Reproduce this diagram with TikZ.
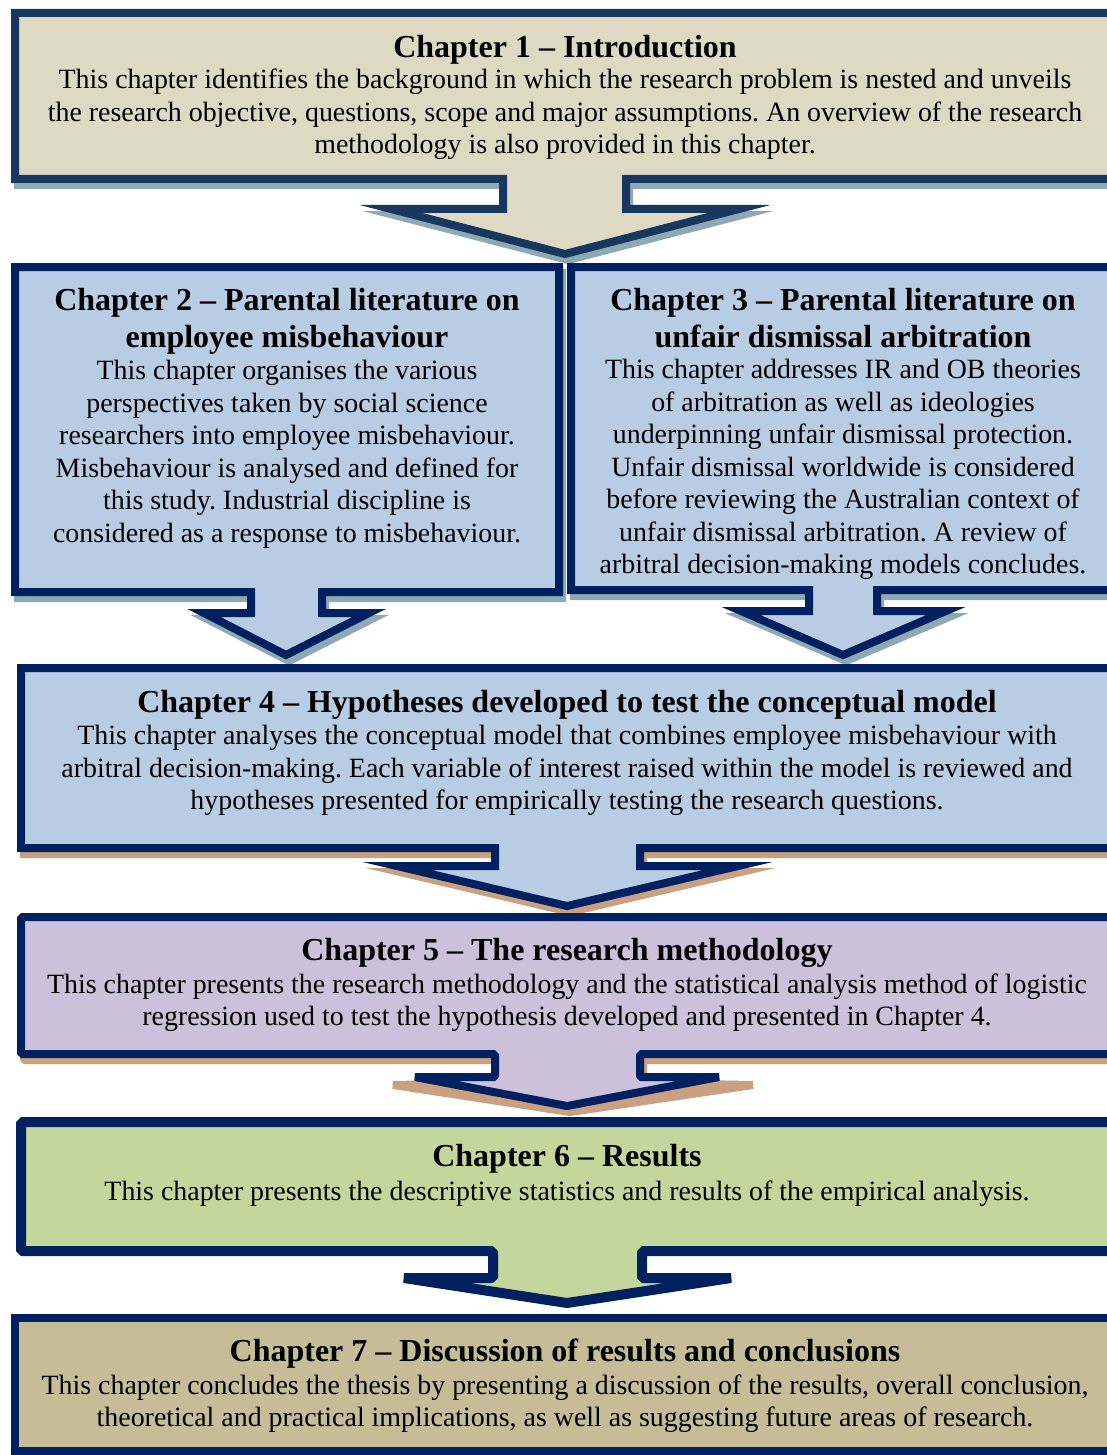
\documentclass[tikz,border=0pt]{standalone}
\usepackage{fontspec}
\setmainfont{Liberation Serif}
\usetikzlibrary{positioning}
\definecolor{FrameDark}{RGB}{23,55,94}
\definecolor{FrameNavy}{RGB}{0,32,96}
\definecolor{SandFill}{RGB}{221,217,195}
\definecolor{SkyFill}{RGB}{184,204,228}
\definecolor{LilacFill}{RGB}{204,192,218}
\definecolor{OliveFill}{RGB}{195,214,155}
\definecolor{KhakiFill}{RGB}{196,189,151}
\definecolor{ShadeBlue}{RGB}{142,169,180}
\definecolor{ShadeTan}{RGB}{201,160,128}
\frenchspacing

\begin{document}
\begin{tikzpicture}[x=0.5pt, y=-0.5pt, line join=miter,
  frame/.style={line width=4pt, draw=FrameNavy},
  shade/.style={line width=4pt, draw=#1, fill=#1, shift={(3,6)}},
  title/.style={font=\bfseries\fontsize{16}{18.5}\selectfont, align=center, inner sep=0pt},
  body/.style={font=\fontsize{13.95}{16.25}\selectfont, align=center, inner sep=0pt}]
\useasboundingbox (0,0) rectangle (1107,1455);
\clip (0,0) rectangle (1107,1455);

% chapter outlines with their arrows
\def\chapA{(15,13) -- (1115,13) -- (1115,179) -- (626,179) -- (626,209) -- (739,209) -- (565,254) -- (391,209) -- (503,209) -- (503,179) -- (15,179) -- cycle}
\def\chapB{(15,267) -- (559,267) -- (559,592) -- (322,592) -- (322,613) -- (369,613) -- (286,655) -- (204,613) -- (251,613) -- (251,592) -- (15,592) -- cycle}
\def\chapC{(571,267) -- (1115,267) -- (1115,590) -- (877,590) -- (877,611) -- (946,611) -- (843,655) -- (741,611) -- (809,611) -- (809,590) -- (571,590) -- cycle}
\def\chapD{(21,668) -- (1115,668) -- (1115,848) -- (640,848) -- (640,866) -- (738,866) -- (567,906) -- (397,866) -- (495,866) -- (495,848) -- (21,848) -- cycle}
\def\chapE{(21,917) -- (1115,917) -- (1115,1054) -- (640,1054) -- (640,1077) -- (719,1077) -- (567,1106) -- (415,1077) -- (495,1077) -- (495,1054) -- (21,1054) -- cycle}
\def\chapF{(21,1122) -- (1115,1122) -- (1115,1251) -- (642,1251) -- (642,1278) -- (731,1278) -- (567,1303) -- (404,1278) -- (493,1278) -- (493,1251) -- (21,1251) -- cycle}

\path[shade=ShadeBlue] \chapA;
\path[frame, draw=FrameDark, fill=SandFill] \chapA;
\path[shade=ShadeBlue] \chapB;
\path[frame, fill=SkyFill] \chapB;
\path[shade=ShadeBlue] \chapC;
\path[frame, fill=SkyFill] \chapC;
\path[shade=ShadeTan] \chapD;
\path[frame, fill=SkyFill] \chapD;
\path[shade=ShadeTan, line join=bevel] (21,917) -- (1115,917) -- (1115,1054) -- (640,1054) -- (640,1077) -- (750,1079) -- (567,1106) -- (390,1079) -- (495,1077) -- (495,1054) -- (21,1054) -- cycle;
\path[frame, fill=LilacFill, line join=bevel] \chapE;
\path[frame, fill=OliveFill, line width=5pt, line join=bevel] \chapF;
\path[frame, fill=KhakiFill] (15,1318) rectangle (1115,1451);

% texts
\node[title] (t1) at (565,50) {Chapter 1 \textendash{} Introduction};
\node[body] (b1) at (565,114.5) {This chapter identifies the background in which the research problem is nested and unveils\\the research objective, questions, scope and major assumptions. An overview of the research\\methodology is also provided in this chapter.};

\node[title] (t2) at (287,321.5) {Chapter 2 \textendash{} Parental literature on\\employee misbehaviour};
\node[body] (b2) at (287,454.5) {This chapter organises the various\\perspectives taken by social science\\researchers into employee misbehaviour.\\Misbehaviour is analysed and defined for\\this study. Industrial discipline is\\considered as a response to misbehaviour.};

\node[title] (t3) at (843,318.5) {Chapter 3 \textendash{} Parental literature on\\unfair dismissal arbitration};
\node[body] (b3) at (843,469.5) {This chapter addresses IR and OB theories\\of arbitration as well as ideologies\\underpinning unfair dismissal protection.\\Unfair dismissal worldwide is considered\\before reviewing the Australian context of\\unfair dismissal arbitration. A review of\\arbitral decision-making models concludes.};

\node[title] (t4) at (567,705) {Chapter 4 \textendash{} Hypotheses developed to test the conceptual model};
\node[body] (b4) at (567,770.5) {This chapter analyses the conceptual model that combines employee misbehaviour with\\arbitral decision-making. Each variable of interest raised within the model is reviewed and\\hypotheses presented for empirically testing the research questions.};

\node[title] (t5) at (567,953) {Chapter 5 \textendash{} The research methodology};
\node[body] (b5) at (567,1002.5) {This chapter presents the research methodology and the statistical analysis method of logistic\\regression used to test the hypothesis developed and presented in Chapter 4.};

\node[title] (t6) at (567,1159) {Chapter 6 \textendash{} Results};
\node[body] (b6) at (567,1194) {This chapter presents the descriptive statistics and results of the empirical analysis.};

\node[title] (t7) at (565,1354) {Chapter 7 \textendash{} Discussion of results and conclusions};
\node[body] (b7) at (565,1403.5) {This chapter concludes the thesis by presenting a discussion of the results, overall conclusion,\\theoretical and practical implications, as well as suggesting future areas of research.};
\end{tikzpicture}
\end{document}
